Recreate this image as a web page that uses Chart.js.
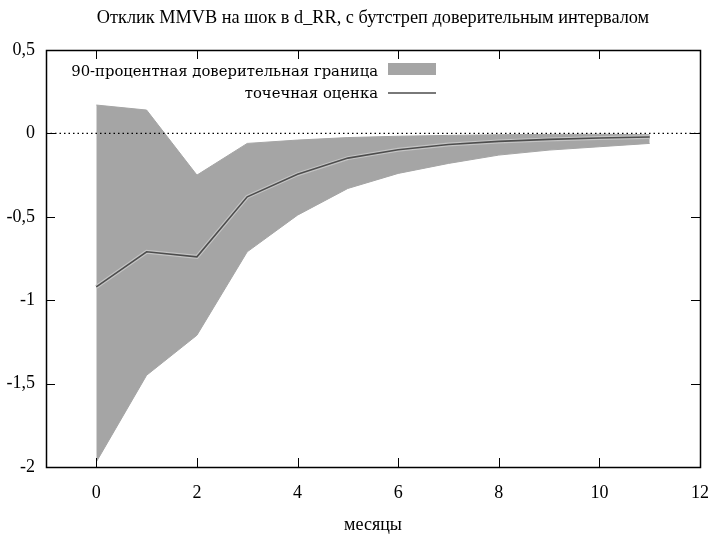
<!DOCTYPE html>
<html>
<head>
<meta charset="utf-8">
<script src="https://cdn.jsdelivr.net/npm/chart.js@4/dist/chart.umd.min.js"></script>
<style>
html,body{margin:0;padding:0;background:#fff;}
#wrap{width:712px;height:534px;}
</style>
</head>
<body>
<div id="wrap"><canvas id="c" width="712" height="534"></canvas></div>
<script>
const months = [0, 1, 2, 3, 4, 5, 6, 7, 8, 9, 10, 11];
const pointEstimate = [-0.92, -0.71, -0.74, -0.38, -0.245, -0.148, -0.098, -0.067, -0.048, -0.036, -0.028, -0.022];
const upperBound = [0.17, 0.14, -0.25, -0.06, -0.04, -0.025, -0.017, -0.012, -0.008, -0.006, -0.005, -0.008];
const lowerBound = [-1.97, -1.45, -1.21, -0.71, -0.49, -0.33, -0.24, -0.18, -0.13, -0.10, -0.08, -0.06];
const xTicks = [0, 2, 4, 6, 8, 10, 12];
const yTicks = [-2, -1.5, -1, -0.5, 0, 0.5];
const zeroLine = [-1, 12];

const titleText = 'Отклик MMVB на шок в d_RR, с бутстреп доверительным интервалом';
const xTitle = 'месяцы';
const legendBand = '90-процентная доверительная граница';
const legendLine = 'точечная оценка';

const BAND = '#a5a5a5';
const LINE = '#4d4d4d';
const SERIF = '"Liberation Serif", "Times New Roman", serif';

const pts = arr => months.map((m, i) => ({x: m, y: arr[i]}));

const framePlugin = {
  id: 'frame',
  afterDraw(chart) {
    const ctx = chart.ctx;
    const a = chart.chartArea;
    const xs = chart.scales.x, ys = chart.scales.y;
    const tl = 9;
    ctx.save();
    // title, centred over the plot area
    ctx.fillStyle = '#000';
    ctx.font = '18.3px ' + SERIF;
    ctx.textAlign = 'center';
    ctx.textBaseline = 'middle';
    ctx.fillText(titleText, (a.left + a.right) / 2, 18);

    ctx.strokeStyle = '#000';
    ctx.lineWidth = 1;
    ctx.beginPath();
    xs.ticks.forEach(t => {
      const px = Math.round(xs.getPixelForValue(t.value)) + 0.5;
      ctx.moveTo(px, a.bottom); ctx.lineTo(px, a.bottom - tl);
      ctx.moveTo(px, a.top); ctx.lineTo(px, a.top + tl);
    });
    ys.ticks.forEach(t => {
      const py = Math.round(ys.getPixelForValue(t.value)) + 0.5;
      ctx.moveTo(a.left, py); ctx.lineTo(a.left + tl, py);
      ctx.moveTo(a.right, py); ctx.lineTo(a.right - tl, py);
    });
    ctx.stroke();
    ctx.lineWidth = 1.5;
    ctx.strokeRect(Math.round(a.left) + 0.5, Math.round(a.top) + 0.5, Math.round(a.right - a.left), Math.round(a.bottom - a.top));
    // legend
    ctx.fillStyle = '#000';
    ctx.font = '14.8px "DejaVu Serif", serif';
    ctx.textAlign = 'right';
    ctx.textBaseline = 'middle';
    const tx = 378;
    ctx.fillText(legendBand, tx, 72);
    ctx.fillText(legendLine, tx, 94);
    ctx.fillStyle = BAND;
    ctx.fillRect(388, 63, 48, 12);
    ctx.strokeStyle = LINE;
    ctx.lineWidth = 1.5;
    ctx.beginPath();
    ctx.moveTo(388, 93); ctx.lineTo(436, 93);
    ctx.stroke();
    ctx.restore();
  }
};

new Chart(document.getElementById('c'), {
  type: 'scatter',
  data: {
    datasets: [
      {
        label: 'upper', data: pts(upperBound), showLine: true, fill: '+1',
        backgroundColor: BAND, borderColor: BAND, borderWidth: 1, pointRadius: 0, order: 4
      },
      {
        label: 'lower', data: pts(lowerBound), showLine: true, fill: false,
        borderColor: BAND, borderWidth: 1, pointRadius: 0, order: 5
      },
      {
        label: 'halo', data: pts(pointEstimate), showLine: true, fill: false,
        borderColor: '#c4c4c4', borderWidth: 4, pointRadius: 0, order: 3
      },
      {
        label: legendLine, data: pts(pointEstimate), showLine: true, fill: false,
        borderColor: LINE, borderWidth: 1.6, pointRadius: 0, order: 2
      },
      {
        label: 'zero', data: zeroLine.map(v => ({x: v, y: 0})), showLine: true, fill: false,
        borderColor: '#000', borderWidth: 1.2, borderDash: [1.5, 3], pointRadius: 0, order: 1
      }
    ]
  },
  options: {
    responsive: false,
    animation: false,
    layout: {padding: {left: 0, right: 12, top: 50, bottom: 0}},
    plugins: {
      legend: {display: false},
      tooltip: {enabled: false},
      title: {display: false}
    },
    scales: {
      x: {
        type: 'linear', min: -1, max: 12,
        afterBuildTicks: s => { s.ticks = xTicks.map(v => ({value: v})); },
        afterFit: s => { s.height = 67; s.paddingRight = 0; s.paddingLeft = 0; },
        grid: {display: false, drawTicks: false},
        border: {display: false},
        ticks: {color: '#000', padding: 15.5, font: {family: SERIF, size: 18}, maxRotation: 0},
        title: {display: true, text: xTitle, color: '#000', font: {family: SERIF, size: 18, lineHeight: 1}, padding: {top: 0, bottom: 0}}
      },
      y: {
        type: 'linear', min: -2, max: 0.5,
        afterBuildTicks: s => { s.ticks = yTicks.map(v => ({value: v})); },
        afterFit: s => { s.width = 46; s.paddingTop = 0; s.paddingBottom = 0; },
        grid: {display: false, drawTicks: false},
        border: {display: false},
        ticks: {color: '#000', padding: 11, font: {family: SERIF, size: 18},
          callback: v => String(v).replace('.', ',')}
      }
    }
  },
  plugins: [framePlugin]
});
</script>
</body>
</html>
